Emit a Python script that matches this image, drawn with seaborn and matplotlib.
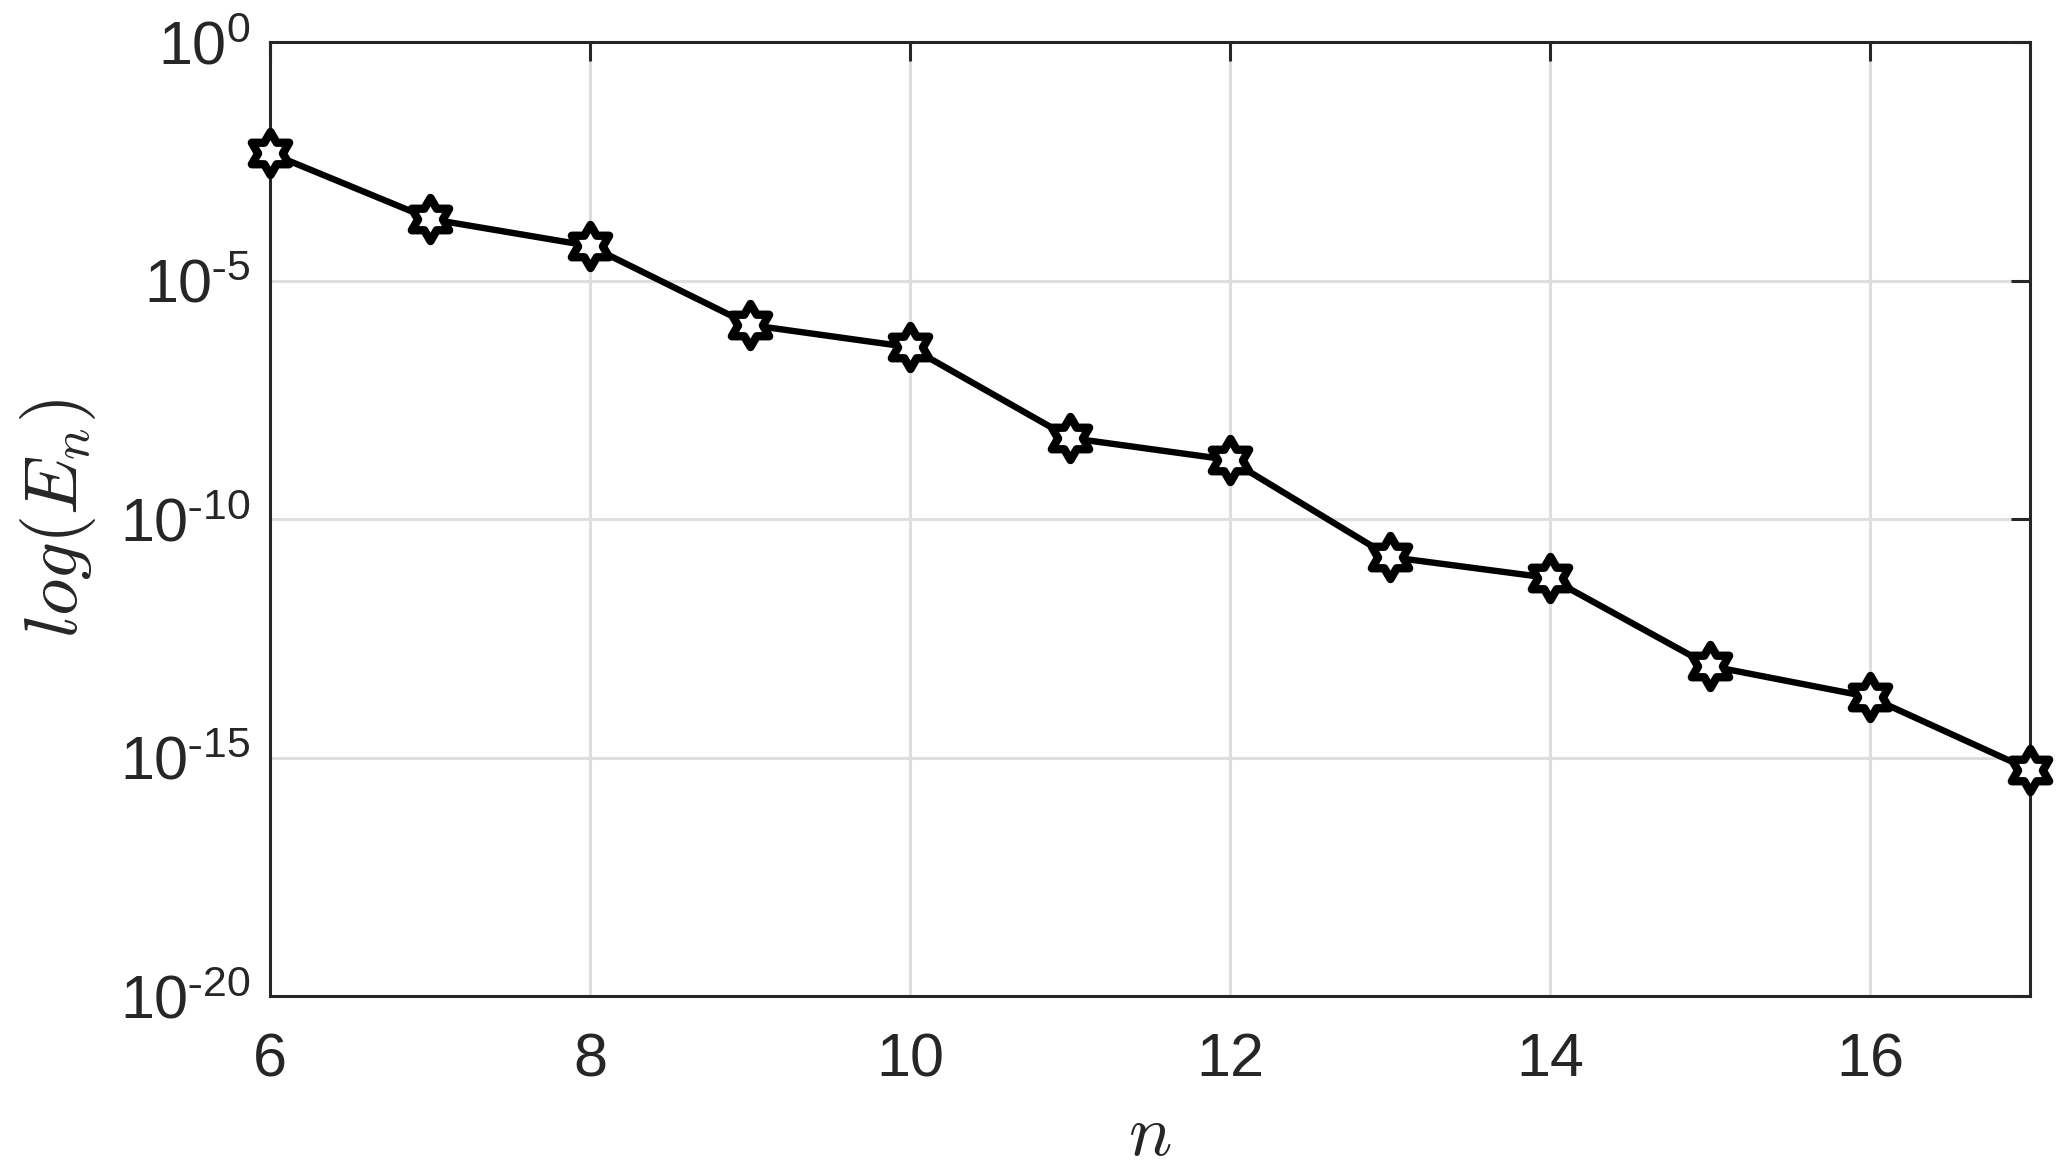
import numpy as np
import pandas as pd
import matplotlib
matplotlib.use('Agg')
import matplotlib.pyplot as plt
from matplotlib.path import Path
from matplotlib.ticker import FixedLocator, FixedFormatter, NullLocator
import seaborn as sns

# data
n_values = [6, 7, 8, 9, 10, 11, 12, 13, 14, 15, 16, 17]
error_values = [4.7e-3, 1.95e-4, 5.3e-5, 1.17e-6, 4.0e-7, 5.0e-9,
                1.73e-9, 1.6e-11, 5.8e-12, 8.3e-14, 1.85e-14, 5.5e-16]
x_ticks = [6, 8, 10, 12, 14, 16]
y_ticks = [1e-20, 1e-15, 1e-10, 1e-5, 1e0]
y_tick_labels = [r'$\mathregular{10^{\text{-}20}}$', r'$\mathregular{10^{\text{-}15}}$',
                 r'$\mathregular{10^{\text{-}10}}$', r'$\mathregular{10^{\text{-}5}}$',
                 r'$\mathregular{10^{0}}$']

df = pd.DataFrame({'n': n_values, 'E': error_values})

sns.set_style('white')
plt.rcParams['font.family'] = ['Liberation Sans', 'DejaVu Sans']
plt.rcParams['mathtext.fontset'] = 'cm'

# hexagram marker (MATLAB 'h')
angles_out = np.deg2rad(90 + 60 * np.arange(6))
angles_in = angles_out + np.deg2rad(30)
r_in = 1 / np.sqrt(3)
verts = []
for a, b in zip(angles_out, angles_in):
    verts.append((np.cos(a), np.sin(a)))
    verts.append((r_in * np.cos(b), r_in * np.sin(b)))
verts.append(verts[0])
codes = [Path.MOVETO] + [Path.LINETO] * 11 + [Path.CLOSEPOLY]
hexagram = Path(verts, codes)

fig = plt.figure(figsize=(20.68, 11.74), dpi=100)
ax = fig.add_axes([0.1306, 0.1516, 0.851, 0.8126])

sns.lineplot(data=df, x='n', y='E', ax=ax, color='black', linewidth=4.6,
             marker=hexagram, markersize=31, markerfacecolor='white',
             markeredgecolor='black', markeredgewidth=6, zorder=3, clip_on=False)

ax.set_yscale('log')
ax.set_xlim(6, 17)
ax.set_ylim(1e-20, 1e0)
ax.xaxis.set_major_locator(FixedLocator(x_ticks))
ax.yaxis.set_major_locator(FixedLocator(y_ticks))
ax.yaxis.set_major_formatter(FixedFormatter(y_tick_labels))
ax.yaxis.set_minor_locator(NullLocator())
ax.xaxis.set_minor_locator(NullLocator())

ax.grid(True, color='#dedede', linewidth=2.2)
ax.set_axisbelow(True)
for s in ax.spines.values():
    s.set_visible(True)
    s.set_color('#262626')
    s.set_linewidth(2.2)
ax.tick_params(axis='both', which='major', direction='in', length=14, width=2.2,
               colors='#262626', labelsize=44, top=True, right=True)
ax.tick_params(axis='x', pad=26)
ax.tick_params(axis='y', pad=14)

ax.set_xlabel(r'$n$', fontsize=52, color='#262626', labelpad=10)
ax.set_ylabel(r'$log(E_n)$', fontsize=54, color='#262626', labelpad=16)

fig.savefig('out.png', dpi=100)
